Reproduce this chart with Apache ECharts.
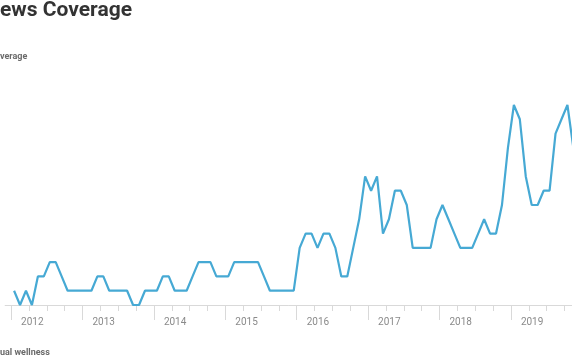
<!DOCTYPE html>
<html>
<head>
<meta charset="utf-8">
<script src="https://cdn.jsdelivr.net/npm/echarts@6/dist/echarts.min.js"></script>
<style>
html,body{margin:0;padding:0;background:#fff;}
#chart{width:572px;height:364px;}
</style>
</head>
<body>
<div id="chart"></div>
<script>
// Months (leading Dec 2011 is an empty slot so the axis starts slightly before Jan 2012)
var months = ['2011-12',
  '2012-01','2012-02','2012-03','2012-04','2012-05','2012-06','2012-07','2012-08','2012-09','2012-10','2012-11','2012-12',
  '2013-01','2013-02','2013-03','2013-04','2013-05','2013-06','2013-07','2013-08','2013-09','2013-10','2013-11','2013-12',
  '2014-01','2014-02','2014-03','2014-04','2014-05','2014-06','2014-07','2014-08','2014-09','2014-10','2014-11','2014-12',
  '2015-01','2015-02','2015-03','2015-04','2015-05','2015-06','2015-07','2015-08','2015-09','2015-10','2015-11','2015-12',
  '2016-01','2016-02','2016-03','2016-04','2016-05','2016-06','2016-07','2016-08','2016-09','2016-10','2016-11','2016-12',
  '2017-01','2017-02','2017-03','2017-04','2017-05','2017-06','2017-07','2017-08','2017-09','2017-10','2017-11','2017-12',
  '2018-01','2018-02','2018-03','2018-04','2018-05','2018-06','2018-07','2018-08','2018-09','2018-10','2018-11','2018-12',
  '2019-01','2019-02','2019-03','2019-04','2019-05','2019-06','2019-07','2019-08','2019-09','2019-10','2019-11'];

// Article counts per month
var coverage = ['-',
  1,0,1,0,2,2,3,3,2,1,1,1,
  1,1,2,2,1,1,1,1,0,0,1,1,
  1,2,2,1,1,1,2,3,3,3,2,2,
  2,3,3,3,3,3,2,1,1,1,1,1,
  4,5,5,4,5,5,4,2,2,4,6,9,
  8,9,5,6,8,8,7,4,4,4,4,6,
  7,6,5,4,4,4,5,6,5,5,7,11,
  14,13,9,7,7,8,8,12,13,14,11];

var titleText = 'ews Coverage';
var panelTitle = 'verage';
var nextPanelTitle = 'ual wellness';

var chart = echarts.init(document.getElementById('chart'), null, {renderer: 'canvas'});

function isQuarter(idx, val) {
  var m = val.slice(5);
  return m === '01' || m === '04' || m === '07' || m === '10';
}
function isJan(idx, val) { return val.slice(5) === '01'; }

chart.setOption({
  animation: false,
  backgroundColor: '#fff',
  grid: {left: 5.15, width: 571.2, top: 105, height: 200, containLabel: false, outerBoundsMode: 'none'},
  xAxis: [
    {
      type: 'category', data: months, boundaryGap: true, position: 'bottom',
      axisLine: {show: true, lineStyle: {color: '#d9d9d9', width: 1}},
      axisTick: {show: true, interval: isQuarter, length: 6, lineStyle: {color: '#d9d9d9'}},
      axisLabel: {show: false},
      splitLine: {show: false}
    },
    {
      type: 'category', data: months, boundaryGap: true, position: 'bottom',
      axisLine: {show: false},
      axisTick: {show: true, interval: isJan, length: 15, lineStyle: {color: '#d9d9d9'}},
      axisLabel: {
        show: true, interval: isJan, margin: 12, align: 'left', padding: [0, 0, 0, 7],
        formatter: function (v) { return v.slice(0, 4); },
        color: '#8a8a8a', fontFamily: 'Roboto', fontSize: 10
      },
      splitLine: {show: false}
    }
  ],
  yAxis: {
    type: 'value', min: 0, max: 14, show: false, splitLine: {show: false}
  },
  series: [{
    type: 'line', xAxisIndex: 0, data: coverage,
    symbol: 'none', clip: true,
    lineStyle: {color: '#46a9d4', width: 2.2},
    itemStyle: {color: '#46a9d4'}
  }],
  graphic: [
    {type: 'text', left: 0, top: 0, style: {text: titleText, font: 'bold 21px Roboto', fill: '#333333'}},
    {type: 'text', left: 0, top: 52, style: {text: panelTitle, font: 'bold 9px Roboto', fill: '#6a6a6a'}},
    {type: 'text', left: 0, top: 348, style: {text: nextPanelTitle, font: 'bold 9px Roboto', fill: '#6a6a6a'}}
  ]
});
</script>
</body>
</html>
